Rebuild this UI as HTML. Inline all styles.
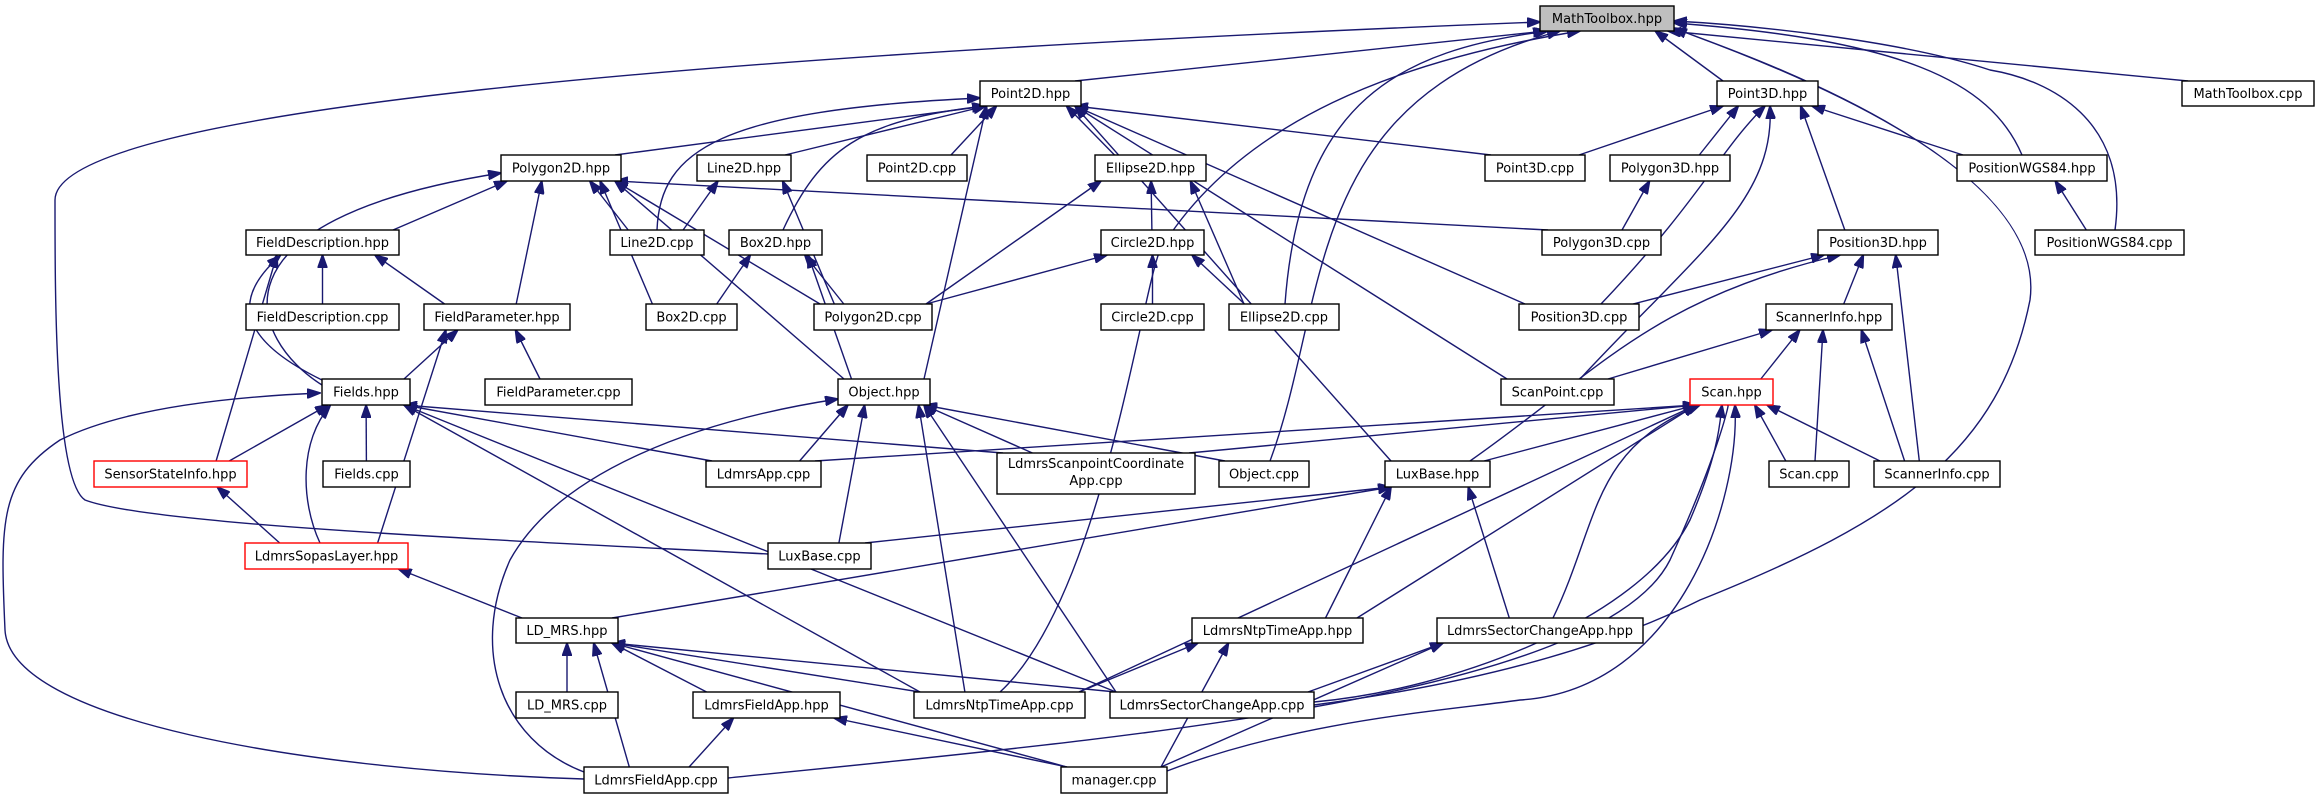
<!DOCTYPE html>
<html><head><meta charset="utf-8"><style>
html,body{margin:0;padding:0;background:#fff;}
svg{display:block;}
</style></head><body>
<svg id="g" xmlns="http://www.w3.org/2000/svg" width="2318" height="799" viewBox="0 0 2318 799"></svg>
<script>
const R={0:[6,31],1:[81,106],2:[155,181],3:[230,255],4:[304,330],5:[379,405],6:[461,487],7:[543,569],8:[618,643],9:[692,718],10:[767,793]};
const N={
MT:["MathToolbox.hpp",1540,1674,0,"g"],
P2:["Point2D.hpp",980,1081,1],
P3:["Point3D.hpp",1717,1818,1],
MTC:["MathToolbox.cpp",2182,2314,1],
PG:["Polygon2D.hpp",501,621,2],
L2:["Line2D.hpp",697,791,2],
P2C:["Point2D.cpp",867,967,2],
E2:["Ellipse2D.hpp",1095,1206,2],
P3C:["Point3D.cpp",1485,1585,2],
PG3:["Polygon3D.hpp",1610,1730,2],
W:["PositionWGS84.hpp",1957,2107,2],
FD:["FieldDescription.hpp",246,399,3],
L2C:["Line2D.cpp",610,704,3],
B2:["Box2D.hpp",729,822,3],
C2:["Circle2D.hpp",1101,1204,3],
PG3C:["Polygon3D.cpp",1542,1661,3],
PS3:["Position3D.hpp",1818,1938,3],
WC:["PositionWGS84.cpp",2035,2184,3],
FDC:["FieldDescription.cpp",246,399,4],
FP:["FieldParameter.hpp",424,570,4],
B2C:["Box2D.cpp",646,737,4],
PGC:["Polygon2D.cpp",814,932,4],
C2C:["Circle2D.cpp",1101,1204,4],
E2C:["Ellipse2D.cpp",1229,1339,4],
PS3C:["Position3D.cpp",1519,1639,4],
SI:["ScannerInfo.hpp",1766,1892,4],
F:["Fields.hpp",322,410,5],
FPC:["FieldParameter.cpp",485,632,5],
O:["Object.hpp",838,930,5],
SPC:["ScanPoint.cpp",1501,1614,5],
S:["Scan.hpp",1690,1773,5,"r"],
SS:["SensorStateInfo.hpp",94,247,6,"r"],
FC:["Fields.cpp",323,410,6],
LA:["LdmrsApp.cpp",706,821,6],
LSC:["LdmrsScanpointCoordinate|App.cpp",997,1195,6,"t"],
OC:["Object.cpp",1219,1309,6],
LB:["LuxBase.hpp",1385,1490,6],
SC:["Scan.cpp",1769,1849,6],
SIC:["ScannerInfo.cpp",1874,2000,6],
SL:["LdmrsSopasLayer.hpp",245,408,7,"r"],
LBC:["LuxBase.cpp",768,871,7],
LD:["LD_MRS.hpp",516,618,8],
NTH:["LdmrsNtpTimeApp.hpp",1192,1363,8],
SCH:["LdmrsSectorChangeApp.hpp",1437,1643,8],
LDC:["LD_MRS.cpp",516,618,9],
FAH:["LdmrsFieldApp.hpp",693,840,9],
NTC:["LdmrsNtpTimeApp.cpp",914,1085,9],
SCC:["LdmrsSectorChangeApp.cpp",1110,1314,9],
FAC:["LdmrsFieldApp.cpp",584,728,10],
MC:["manager.cpp",1061,1167,10]
};
function box(k){const n=N[k];let y1=R[n[3]][0],y2=R[n[3]][1];if(n[4]=="t"){y1=453;y2=494;}return {x1:n[1],x2:n[2],y1,y2,cx:(n[1]+n[2])/2,cy:(y1+y2)/2};}
const E="MT:P2,P3,MTC,W,WC,E2C,OC,NTC,LBC,SCC;P2:PG,L2,P2C,E2,L2C,B2,O,LB,P3C,PS3C,SPC;PG:FD,F,FP,L2C,B2C,PGC,O,PG3C;L2:L2C,PGC;E2:C2,E2C,PGC;C2:C2C,E2C,PGC;B2:B2C,PGC,O;FD:FDC,FP,F,SS;FP:F,FPC,SL;F:SS,FC,SL,LA,LSC,NTC,SCC,FAC;O:LA,LSC,OC,LBC,NTC,SCC,FAC;P3:P3C,PG3,W,PS3,PS3C,SPC;PG3:PG3C;W:WC;PS3:PS3C,SI,LB,SIC;SI:SPC,S,SC,SIC;S:LA,LSC,LB,NTH,SCH,SC,SIC,NTC,SCC,FAC,MC;SS:SL;SL:LD;LB:LBC,LD,NTH,SCH;LD:LDC,FAH,FAC,NTC,SCC,MC;FAH:FAC,MC;NTH:NTC,MC;SCH:SCC,MC";
const custom={
"MT|LBC":"M768,554 C500,540 150,525 85,500 C55,480 55,300 55,200 C55,110 700,55 1540,22",
"F|FAC":"M584,779 C300,770 10,720 5,630 C0,520 0,480 60,440 C130,405 250,396 320,393",
"F|SL":"M320,543 C300,500 300,440 330,406",
"FD|F":"M322,380 C240,340 230,300 280,256",
"PG|F":"M322,385 C250,340 200,220 501,173",
"O|FAC":"M584,772 C500,740 470,650 510,560 C560,470 700,420 838,399",
"MT|SCC":"M1314,705 C1500,680 1620,640 1700,600 C1900,520 2000,450 2030,300 C2050,150 1700,40 1674,28",
"MT|NTC":"M1000,692 C1100,600 1140,300 1160,250 C1240,120 1400,60 1580,31",
"MT|OC":"M1270,461 C1330,300 1300,100 1560,31",
"MT|E2C":"M1285,304 C1300,100 1400,50 1548,31",
"MT|W":"M2022,155 C1990,80 1900,40 1674,23",
"MT|WC":"M2115,230 C2130,120 2050,80 1990,70 C1900,40 1750,25 1674,21",
"S|FAC":"M728,778 C1100,740 1600,700 1670,560 C1720,450 1730,400 1728,405",
"S|MC":"M1167,771 C1300,720 1450,710 1520,700 C1680,690 1740,500 1735,405",
"S|SCC":"M1314,702 C1450,690 1640,620 1690,520 C1720,450 1720,420 1722,405",
"P2|L2C":"M657,230 C660,150 720,110 980,98",
"P2|B2":"M783,230 C820,150 860,120 985,106",
"P3|PS3C":"M1601,304 C1700,200 1720,150 1765,106",
"P3|SPC":"M1580,379 C1700,250 1775,200 1770,106",
"PS3|LB":"M1470,461 C1600,370 1650,300 1840,255",
"S|SCH":"M1553,618 C1600,520 1590,450 1700,405",
"S|SCC2":""
};
let s='<defs><marker id="a" markerWidth="14" markerHeight="10" refX="13" refY="5" orient="auto" markerUnits="userSpaceOnUse"><path d="M0,0 L14,5 L0,10 z" fill="#191970" stroke="#191970"/></marker></defs>';
E.split(";").forEach(g=>{const [p,cs]=g.split(":");cs.split(",").forEach(c=>{
 const k=p+"|"+c;let d;
 if(custom[k])d=custom[k];else{
 const a=box(c),b=box(p);
 const ha=(a.x2-a.x1)/2-6,hb=(b.x2-b.x1)/2-6;
 let sx=a.cx+Math.max(-ha,Math.min(ha,(b.cx-a.cx)*0.3));
 let ex=b.cx+Math.max(-hb,Math.min(hb,(a.cx-b.cx)*0.3));
 d=`M${sx.toFixed(1)},${a.y1} L${ex.toFixed(1)},${b.y2}`;}
 s+=`<path d="${d}" fill="none" stroke="#191970" stroke-width="1.4" marker-end="url(#a)"/>`;
});});
for(const k in N){const n=N[k],b=box(k);
 const fill=n[4]=="g"?"#bfbfbf":"#fff",st=n[4]=="r"?"#ff0000":"#000";
 s+=`<rect x="${b.x1}" y="${b.y1}" width="${b.x2-b.x1}" height="${b.y2-b.y1}" fill="${fill}" stroke="${st}" stroke-width="1.4"/>`;
 const lines=n[0].split("|");
 lines.forEach((t,i)=>{const y=lines.length==1?b.cy+4.5:b.y1+15+i*17;
 s+=`<text x="${b.cx}" y="${y}" text-anchor="middle" font-family="DejaVu Sans, Liberation Sans, sans-serif" font-size="13">${t}</text>`;});
}
document.getElementById("g").innerHTML=s;
</script>
</body></html>
